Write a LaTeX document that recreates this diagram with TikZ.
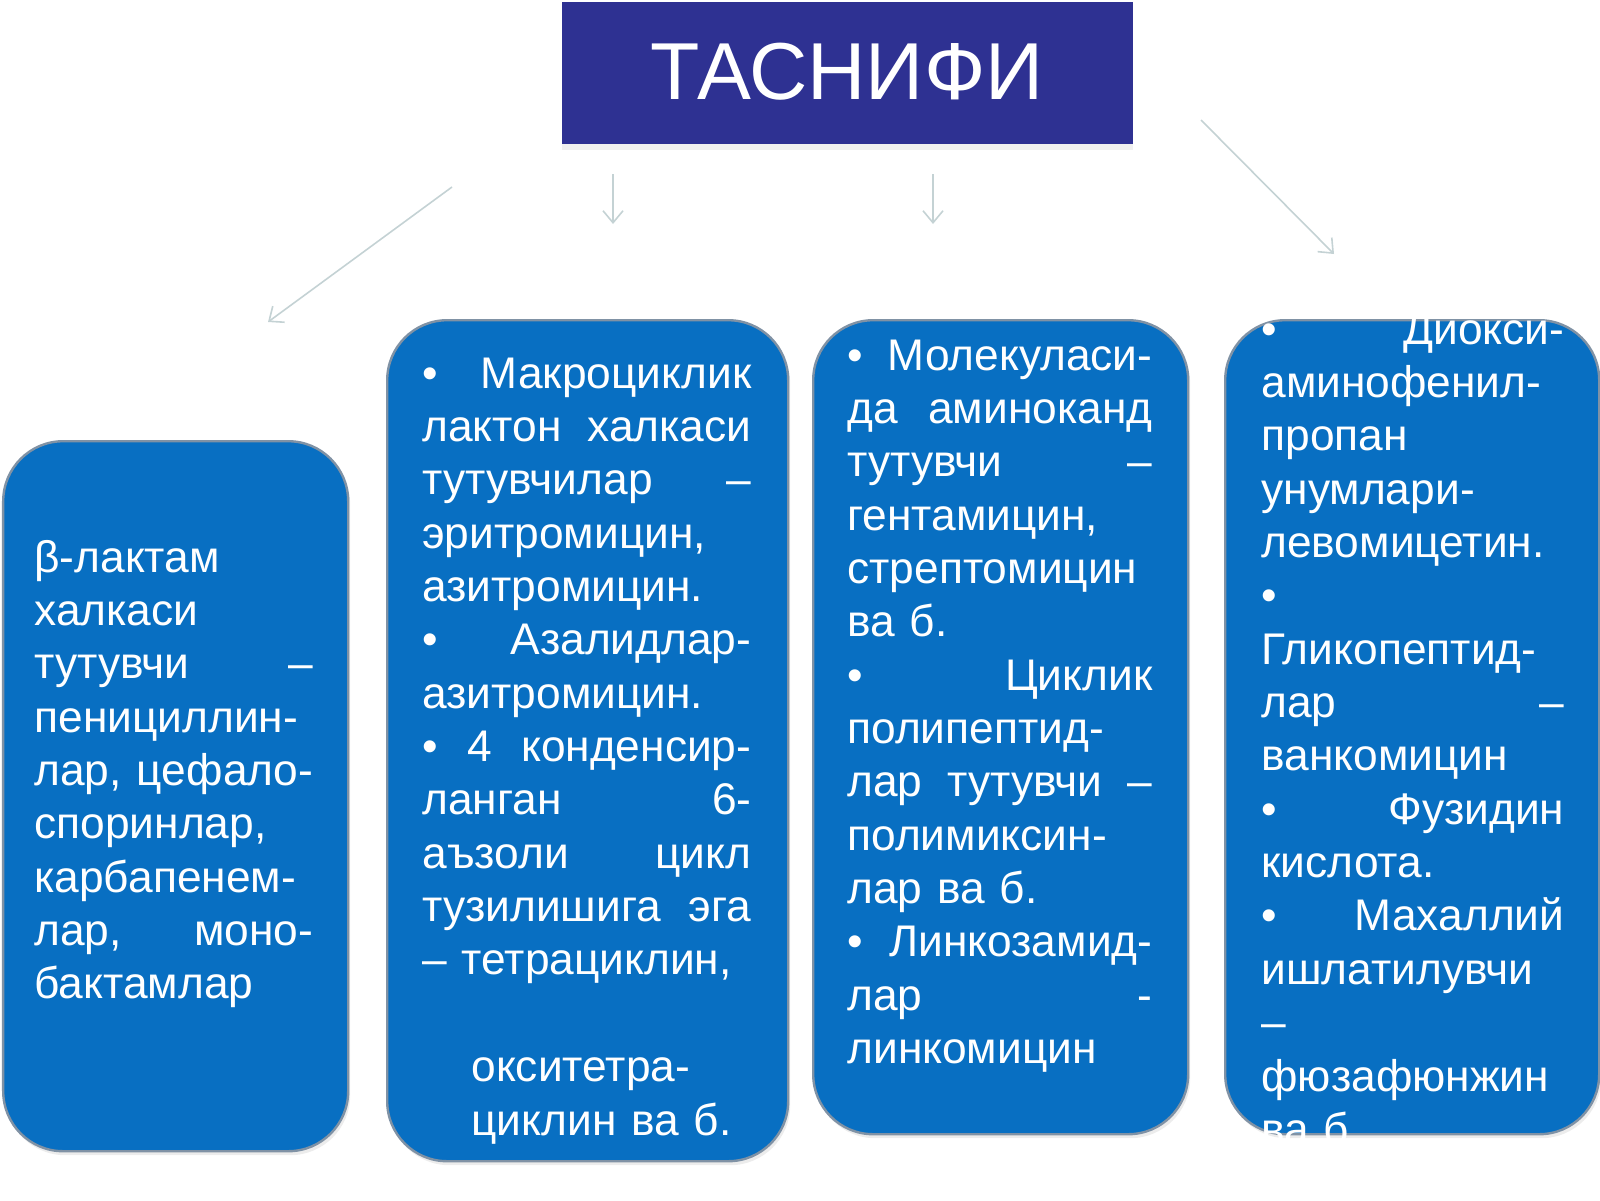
\documentclass[tikz,border=0pt]{standalone}
\usepackage{fontspec}
\setmainfont{Liberation Sans}
\usetikzlibrary{arrows.meta,shadows}
\definecolor{titleblue}{RGB}{46,49,146}
\definecolor{boxblue}{RGB}{8,111,194}
\definecolor{boxedge}{RGB}{128,146,165}
\definecolor{arrowgray}{RGB}{196,210,212}
\newcommand\J[1]{\leavevmode\hbox to \linewidth{#1}}
\tikzset{
  titlebox/.style={fill=titleblue, draw=none, inner sep=0pt, anchor=north west,
    drop shadow={opacity=0.12, shadow xshift=0pt, shadow yshift=-3pt}},
  catbox/.style={fill=boxblue, draw=boxedge, line width=1.2pt, rounded corners=30pt,
    inner sep=0pt, anchor=north west,
    drop shadow={opacity=0.15, shadow xshift=1pt, shadow yshift=-2pt}},
  txt/.style={text=white, inner sep=0pt, align=left, anchor=base west,
    font=\fontsize{22.15}{26.68}\selectfont},
  link/.style={draw=arrowgray, line width=0.8pt, -{Straight Barb[length=6pt,width=10pt]}}
}
\begin{document}
\begin{tikzpicture}[x=0.5pt,y=-0.5pt]
\useasboundingbox (0,0) rectangle (1600,1200);
% title
\node[titlebox, minimum width=285.5pt, minimum height=71pt] (title) at (562,2) {};
\node[text=white, inner sep=0pt, font=\fontsize{40.4}{46}\selectfont] (titletext) at (847,72) {ТАСНИФИ};
% boxes
\node[catbox, minimum width=172.5pt, minimum height=355pt] (b1) at (2,440) {};
\node[catbox, minimum width=200.5pt, minimum height=420.5pt] (b2) at (386,319) {};
\node[catbox, minimum width=187.5pt, minimum height=407pt] (b3) at (812,319) {};
\node[catbox, minimum width=187pt, minimum height=407pt] (b4) at (1224,319) {};
% texts
\node[txt, text width=139.5pt] (t1) at (34,572) {%
β-лактам\\
халкаси\\
\J{тутувчи\hfill –}\\
пенициллин-\\
\J{лар,\hfill цефало-}\\
споринлар,\\
карбапенем-\\
\J{лар,\hfill моно-}\\
бактамлар};
\node[txt, text width=164.5pt] (t2) at (422,388) {%
\J{•\hfill Макроциклик}\\
\J{лактон\hfill халкаси}\\
\J{тутувчилар\hfill –}\\
эритромицин,\\
азитромицин.\\
\J{•\hfill Азалидлар-}\\
азитромицин.\\
\J{•\hfill 4\hfill конденсир-}\\
\J{ланган\hfill 6-}\\
\J{аъзоли\hfill цикл}\\
\J{тузилишига\hfill эга}\\
– тетрациклин,\\
\mbox{}\\
\hspace*{24.5pt}окситетра-\\
\hspace*{24.5pt}циклин ва б.};
\node[txt, text width=152.5pt] (t3) at (847,370) {%
\J{•\hfill Молекуласи-}\\
\J{да\hfill аминоканд}\\
\J{тутувчи\hfill –}\\
гентамицин,\\
стрептомицин\\
ва б.\\
\J{•\hfill Циклик}\\
полипептид-\\
\J{лар\hfill тутувчи\hfill –}\\
полимиксин-\\
лар ва б.\\
\J{•\hfill Линкозамид-}\\
\J{лар\hfill -}\\
линкомицин};
\node[txt, text width=151.5pt] (t4) at (1261,344) {%
\J{•\hfill Диокси-}\\
аминофенил-\\
пропан\\
унумлари-\\
левомицетин.\\
•\\
Гликопептид-\\
\J{лар\hfill –}\\
ванкомицин\\
\J{•\hfill Фузидин}\\
кислота.\\
\J{•\hfill Махаллий}\\
ишлатилувчи\\
–\\
фюзафюнжин\\
ва б.};
% connectors
\coordinate (a1s) at (452,187);
\coordinate (a1e) at (268,322);
\coordinate (a2s) at (613,174);
\coordinate (a2e) at (613,224);
\coordinate (a3s) at (933,174);
\coordinate (a3e) at (933,224);
\coordinate (a4s) at (1201,120);
\coordinate (a4e) at (1334,254);
\draw[link] (a1s) -- (a1e);
\draw[link] (a2s) -- (a2e);
\draw[link] (a3s) -- (a3e);
\draw[link] (a4s) -- (a4e);
\end{tikzpicture}
\end{document}
